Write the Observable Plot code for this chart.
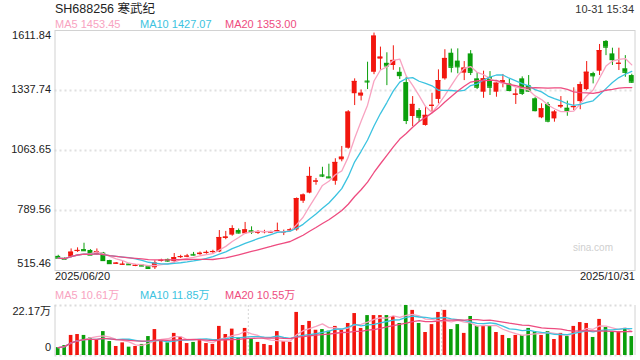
<!DOCTYPE html>
<html><head><meta charset="utf-8">
<script src="https://cdn.jsdelivr.net/npm/d3@7"></script>
<script src="https://cdn.jsdelivr.net/npm/@observablehq/plot@0.6"></script>
<style>
body{margin:0;background:#fff;font-family:"Liberation Sans",Arial,"Noto Sans CJK SC",sans-serif;}
#wrap{position:relative;width:640px;height:360px;overflow:hidden;background:#fff;}
.t{position:absolute;white-space:nowrap;font-size:11px;line-height:1;transform:translateY(-50%);}
#wrap svg{position:absolute;left:0;}
</style></head><body><div id="wrap"></div>
<script>
// ---- data ----
const title = "SH688256 寒武纪";
const stamp = "10-31 15:34";
const dates = ["2025/06/20", "2025/10/31"];
const priceTicks = [1611.84, 1337.74, 1063.65, 789.56, 515.46];
const volTicks = [22.17, 0];
const volUnit = "万";
const maNames = ["MA5", "MA10", "MA20"];
const maPeriods = [5, 10, 20];
const priceMA = [1453.45, 1427.07, 1353.00];
const volMA = [10.61, 11.85, 10.55];
const watermark = "sina.com";

const open  = [580,571,576,603,611,607,588,595,561,545,541,545,536,541,533,528,558,566,556,575,578,589,588,594,598,600,662,677,698,683,697,687,689,688,693,688,697,701,832,869,920,952,943,923,1021,1074,1323,1312,1381,1421,1481,1462,1452,1421,1374,1219,1246,1178,1265,1297,1391,1508,1472,1417,1505,1391,1330,1398,1330,1372,1368,1317,1391,1360,1300,1213,1274,1208,1262,1257,1260,1287,1342,1415,1426,1562,1505,1458,1437,1406];
const high  = [585,573,614,619,640,611,614,598,562,552,556,548,543,543,536,560,567,568,593,585,589,598,600,605,608,698,694,720,705,735,715,698,699,695,732,700,708,847,865,987,936,987,1001,1026,1082,1246,1391,1340,1467,1600,1536,1510,1542,1442,1398,1310,1255,1265,1325,1432,1524,1527,1528,1470,1520,1419,1426,1424,1383,1411,1390,1345,1400,1406,1305,1277,1283,1246,1310,1289,1350,1376,1470,1421,1548,1566,1531,1531,1497,1412];
const low   = [568,564,573,598,604,584,585,560,543,543,539,540,533,533,520,520,554,553,550,570,574,582,585,590,594,597,656,672,682,680,680,680,683,684,688,675,692,695,822,866,905,940,935,905,1012,1070,1269,1290,1342,1410,1430,1360,1430,1388,1182,1173,1192,1175,1239,1277,1385,1418,1414,1383,1406,1342,1302,1315,1307,1350,1332,1274,1315,1330,1240,1209,1190,1193,1255,1220,1246,1250,1337,1368,1406,1497,1452,1429,1398,1370];
const close = [572,567,599,607,606,586,602,561,547,549,544,542,539,536,525,549,562,559,574,579,581,586,594,598,602,666,668,707,687,701,692,691,693,691,697,692,701,844,860,945,924,947,939,1009,1033,1239,1379,1325,1377,1586,1490,1450,1475,1406,1201,1274,1216,1224,1270,1383,1484,1444,1446,1440,1421,1353,1391,1353,1371,1382,1338,1321,1325,1335,1246,1254,1198,1239,1269,1247,1264,1364,1421,1405,1520,1536,1479,1462,1421,1376];
const volume = [3.5,4.4,8.9,9.3,8.9,7.8,7.1,10.6,6.2,4.0,5.6,3.7,4.0,4.9,8.4,11.5,6.7,5.6,9.8,8.1,5.3,5.8,6.9,5.3,4.9,12.9,9.3,11.7,7.8,12.0,7.1,5.8,4.9,4.4,10.6,6.2,5.8,19.1,13.3,15.1,11.2,11.5,10.8,12.9,11.5,14.2,18.6,12.0,17.7,17.7,17.7,17.7,17.3,14.2,22.17,20.0,14.2,10.2,13.7,19.1,20.0,11.5,13.7,9.8,17.3,12.9,13.3,12.9,10.2,8.9,7.5,8.9,8.9,12.0,10.6,8.9,10.6,7.1,9.8,8.4,12.9,14.6,14.2,8.0,16.0,12.4,10.6,10.2,12.0,8.4];

// ---- styles ----
const RED = "#f2160e", GREEN = "#0a9f0b";
const maColors = ["#f8a3c1", "#3cc3e0", "#ee4c80"];
const FONT = "Liberation Sans, Arial, Noto Sans CJK SC, sans-serif";

const data = open.map((o, i) => ({i, open: o, high: high[i], low: low[i], close: close[i], vol: volume[i], up: close[i] >= o}));
const n = data.length;
const xDom = [-0.5, n - 0.5];
const volGridX = [n / 3 - 0.5, 2 * n / 3 - 0.5];
const colorScale = {domain: [true, false], range: [RED, GREEN]};
const wrap = document.getElementById("wrap");

function label(text, x, y, opts = {}) {
  const d = document.createElement("div");
  d.className = "t";
  d.textContent = text;
  d.style.top = y + "px";
  if (opts.anchor === "end") { d.style.right = (640 - x) + "px"; }
  else { d.style.left = x + "px"; }
  if (opts.size) d.style.fontSize = opts.size + "px";
  d.style.color = opts.color || "#333";
  wrap.appendChild(d);
}

const maLines = (yField, sw) => maPeriods.map((k, j) =>
  Plot.lineY(data, Plot.windowY({k, anchor: "end", reduce: "mean"}, {x: "i", y: yField, stroke: maColors[j], strokeWidth: sw, curve: "linear"})));

// ---- price chart ----
const price = Plot.plot({
  width: 640, height: 290, marginTop: 30, marginBottom: 20, marginLeft: 54.5, marginRight: 5.5,
  style: {fontFamily: FONT, fontSize: "11px", color: "#333", background: "transparent"},
  x: {type: "linear", domain: xDom, axis: null},
  y: {domain: [priceTicks[priceTicks.length - 1], priceTicks[0]], axis: null},
  color: colorScale,
  marks: [
    Plot.ruleY(priceTicks.slice(1, -1), {stroke: "#e0e0e0", strokeWidth: 2, strokeDasharray: "2,3"}),
    Plot.frame({stroke: "#d2d2d2"}),
    Plot.ruleX(data, {x: "i", y1: "low", y2: "high", stroke: "up", strokeWidth: 1}),
    Plot.rect(data, {x1: d => d.i - 0.38, x2: d => d.i + 0.38, y1: "open", y2: "close", fill: "up"}),
    Plot.ruleY(data, {y: "close", x1: d => d.i - 0.38, x2: d => d.i + 0.38, stroke: "up", strokeWidth: 1.2}),
    ...maLines("close", 1.3),
    Plot.text([priceTicks[0]], {y: d => d, text: d => d.toFixed(2), frameAnchor: "left", textAnchor: "end", dx: -4, dy: 5, fill: "#222", fontSize: 11}),
    Plot.text(priceTicks.slice(1, -1), {y: d => d, text: d => d.toFixed(2), frameAnchor: "left", textAnchor: "end", dx: -4, dy: -1, fill: "#222", fontSize: 11}),
    Plot.text([priceTicks[priceTicks.length - 1]], {y: d => d, text: d => d.toFixed(2), frameAnchor: "left", textAnchor: "end", dx: -4, dy: -7, fill: "#222", fontSize: 11}),
    Plot.text([dates[0]], {text: d => d, frameAnchor: "bottom-left", textAnchor: "start", dy: 9, fill: "#222", fontSize: 11}),
    Plot.text([dates[1]], {text: d => d, frameAnchor: "bottom-right", textAnchor: "end", dy: 9, fill: "#222", fontSize: 11}),
    Plot.text([watermark], {text: d => d, frameAnchor: "bottom-right", textAnchor: "end", dx: -22, dy: -20, fill: "#cfcfcf", fontSize: 10})
  ]
});
price.style.top = "0px";
wrap.appendChild(price);

// ---- volume chart ----
const vol = Plot.plot({
  width: 640, height: 70, marginTop: 15, marginBottom: 5, marginLeft: 54.5, marginRight: 5.5,
  style: {fontFamily: FONT, fontSize: "11px", color: "#333", background: "transparent"},
  x: {type: "linear", domain: xDom, axis: null},
  y: {domain: [volTicks[1], volTicks[0]], axis: null},
  color: colorScale,
  marks: [
    Plot.ruleY(volTicks, {stroke: "#dcdcdc", strokeWidth: 2, strokeDasharray: "2,3"}),
    Plot.ruleX(xDom, {stroke: "#d2d2d2"}),
    Plot.ruleX(volGridX, {stroke: "#d6d6d6", strokeDasharray: "2,2"}),
    Plot.rect(data, {x1: d => d.i - 0.28, x2: d => d.i + 0.28, y1: 0, y2: "vol", fill: "up"}),
    ...maLines("vol", 1.3),
    Plot.text([volTicks[0]], {y: d => d, text: d => d.toFixed(2) + volUnit, frameAnchor: "left", textAnchor: "end", dx: -4, dy: 6, fill: "#222", fontSize: 11}),
    Plot.text([volTicks[1]], {y: d => d, text: d => String(d), frameAnchor: "left", textAnchor: "end", dx: -4, dy: -8, fill: "#222", fontSize: 11})
  ]
});
vol.style.top = "290px";
wrap.appendChild(vol);

// ---- header texts ----
label(title, 55, 9, {size: 12.5, color: "#222"});
label(stamp, 634, 9, {anchor: "end", size: 11, color: "#333"});
const legendX = [55, 140, 225];
maNames.forEach((m, j) => {
  label(m + " " + priceMA[j].toFixed(2), legendX[j], 24, {color: maColors[j]});
  label(m + " " + volMA[j].toFixed(2) + volUnit, legendX[j], 295, {color: maColors[j]});
});
</script></body></html>
